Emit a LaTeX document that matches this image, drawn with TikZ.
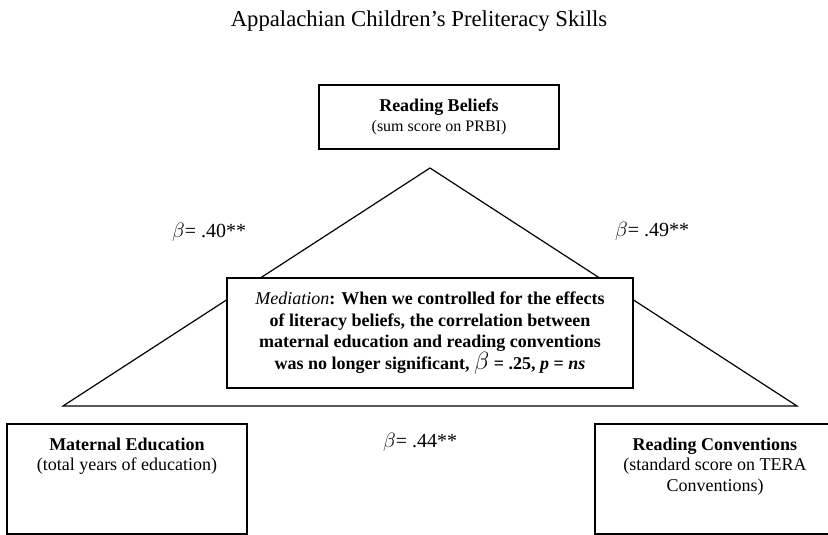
\documentclass[tikz,border=0pt]{standalone}
\usepackage{fontspec}
\setmainfont{Liberation Serif}
\usetikzlibrary{positioning}
\begin{document}
\begin{tikzpicture}[x=1pt,y=-1pt,every node/.style={align=center,inner sep=0pt,font=\fontsize{18}{20.5}\selectfont},box/.style={draw,line width=1.3pt,fill=white,minimum width=240pt},medbox/.style={draw,line width=1.3pt,fill=white,minimum width=406pt,minimum height=110pt,font=\bfseries\fontsize{18}{21.6}\selectfont},edge/.style={line width=1.2pt,line join=miter},beta/.style={font=\fontsize{20}{24}\selectfont}]
\clip (0,0) rectangle (828,535);
\node[anchor=base,font=\fontsize{22.7}{26}\selectfont] (title) at (419,27) {Appalachian Children’s Preliteracy Skills};
\coordinate (apex) at (430,168);\coordinate (baseL) at (63,406);\coordinate (baseR) at (797,406);
\draw[edge] (baseL)--(apex)--(baseR)--cycle;
\node[box,minimum height=64pt,font=\fontsize{18}{20}\selectfont] (belief) at (439,117) {\textbf{Reading Beliefs}\\{\fontsize{16}{20}\selectfont(sum score on PRBI)}};
\node[medbox] (med) at (430,333) {{\mdseries\itshape Mediation}: When we controlled for the effects\\of literacy beliefs, the correlation between\\maternal education and reading conventions\\was no longer significant, {\mdseries\fontsize{23}{23}\selectfont$\beta$} = .25, \textit{p} = \textit{ns}};
\node[box,minimum height=110pt] (matEd) at (127,479) {};
\node[below=14pt of matEd.north] (matTxt) {\textbf{Maternal Education}\\(total years of education)};
\node[box,minimum height=110pt] (conv) at (715,479) {};
\node[below=14pt of conv.north] (convTxt) {\textbf{Reading Conventions}\\(standard score on TERA\\Conventions)};
\node[beta,anchor=base west] (b40) at (172,237) {$\beta$= .40**};
\node[beta,anchor=base west] (b49) at (615,236) {$\beta$= .49**};
\node[beta,anchor=base west] (b44) at (383,447) {$\beta$= .44**};
\end{tikzpicture}
\end{document}
